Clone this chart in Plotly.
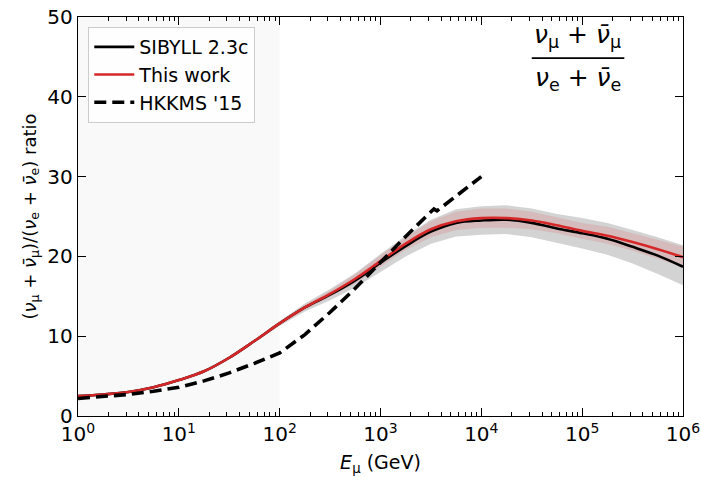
import plotly.graph_objects as go

# log10(E / GeV) sample points
logE = [0, 0.25, 0.5, 0.75, 1.0, 1.25, 1.5, 1.75, 2.0, 2.25, 2.5, 2.75, 3.0,
        3.25, 3.5, 3.75, 4.0, 4.25, 4.5, 4.75, 5.0, 5.25, 5.5, 5.75, 6.0]
this_work = [2.5, 2.7, 3.0, 3.6, 4.5, 5.6, 7.3, 9.4, 11.6, 13.6, 15.3, 17.2, 19.4,
             21.6, 23.4, 24.4, 24.8, 24.8, 24.5, 23.9, 23.2, 22.6, 21.8, 20.9, 19.9]
sibyll = [2.5, 2.7, 3.0, 3.6, 4.5, 5.6, 7.3, 9.4, 11.6, 13.6, 15.2, 17.0, 19.2,
          21.3, 23.1, 24.2, 24.5, 24.6, 24.2, 23.5, 22.9, 22.2, 21.2, 20.1, 18.7]
sibyll_lo = [2.35, 2.55, 2.85, 3.45, 4.35, 5.45, 7.1, 9.2, 11.3, 13.1, 14.5, 16.1, 18.1,
             20.0, 21.6, 22.5, 22.7, 22.8, 22.4, 21.7, 21.0, 20.2, 19.1, 17.8, 16.4]
sibyll_hi = [2.65, 2.85, 3.15, 3.75, 4.65, 5.75, 7.5, 9.6, 11.9, 14.1, 15.9, 17.9, 20.3,
             22.6, 24.6, 25.9, 26.3, 26.4, 26.0, 25.3, 24.8, 24.2, 23.3, 22.4, 21.4]
this_lo = [2.4, 2.6, 2.9, 3.5, 4.4, 5.5, 7.2, 9.3, 11.4, 13.3, 14.9, 16.6, 18.7,
           20.8, 22.4, 23.3, 23.6, 23.6, 23.4, 22.9, 22.2, 21.6, 20.7, 19.7, 18.6]
this_hi = [2.6, 2.8, 3.1, 3.7, 4.6, 5.7, 7.4, 9.5, 11.8, 13.9, 15.7, 17.8, 20.1,
           22.4, 24.4, 25.6, 26.0, 26.0, 25.6, 24.9, 24.2, 23.7, 22.9, 22.1, 21.2]

logE_hkkms = [0, 0.25, 0.5, 0.75, 1.0, 1.25, 1.5, 1.75, 2.0, 2.25, 2.5, 2.75, 3.0,
              3.25, 3.5, 3.53, 3.56, 3.75, 4.0]
hkkms = [2.2, 2.4, 2.7, 3.1, 3.6, 4.4, 5.4, 6.6, 7.9, 10.2, 13.0, 16.0, 19.3,
         22.5, 25.6, 25.95, 25.7, 27.6, 30.0]

x_tickvals = [1, 10, 100, 1e3, 1e4, 1e5, 1e6]
x_ticktext = ["10<sup>0</sup>", "10<sup>1</sup>", "10<sup>2</sup>", "10<sup>3</sup>",
              "10<sup>4</sup>", "10<sup>5</sup>", "10<sup>6</sup>"]
y_tickvals = [0, 10, 20, 30, 40, 50]

E = [10 ** v for v in logE]
E_h = [10 ** v for v in logE_hkkms]
minor_vals = [m * 10 ** d for d in range(6) for m in range(2, 10)]

FONT = "DejaVu Sans"
fig = go.Figure()

# uncertainty bands
fig.add_trace(go.Scatter(x=E, y=sibyll_lo, mode="lines", line=dict(width=0),
                         showlegend=False, hoverinfo="skip"))
fig.add_trace(go.Scatter(x=E, y=sibyll_hi, mode="lines", line=dict(width=0),
                         fill="tonexty", fillcolor="rgba(150,150,150,0.42)",
                         showlegend=False, hoverinfo="skip"))
fig.add_trace(go.Scatter(x=E, y=this_lo, mode="lines", line=dict(width=0),
                         showlegend=False, hoverinfo="skip"))
fig.add_trace(go.Scatter(x=E, y=this_hi, mode="lines", line=dict(width=0),
                         fill="tonexty", fillcolor="rgba(220,80,80,0.18)",
                         showlegend=False, hoverinfo="skip"))

fig.add_trace(go.Scatter(x=E, y=sibyll, mode="lines", name="SIBYLL 2.3c",
                         line=dict(color="black", width=2.6, shape="spline")))
fig.add_trace(go.Scatter(x=E, y=this_work, mode="lines", name="This work",
                         line=dict(color="#d62728", width=2.6, shape="spline")))
fig.add_trace(go.Scatter(x=E_h, y=hkkms, mode="lines", name="HKKMS '15",
                         line=dict(color="black", width=3.6, dash="12px,6px")))

# shaded low-energy region (1 - 100 GeV)
fig.add_shape(type="rect", xref="paper", yref="paper", x0=0, x1=2 / 6, y0=0, y1=1,
              fillcolor="rgba(0,0,0,0.025)", line=dict(width=0), layer="below")

# fraction label
fig.add_annotation(xref="paper", yref="paper", x=0.826, y=0.952, xanchor="center",
                   yanchor="middle",
                   text="<i>ν</i><sub>μ</sub> + <i>ν̄</i><sub>μ</sub>", showarrow=False,
                   font=dict(family=FONT, size=25, color="black"))
fig.add_annotation(xref="paper", yref="paper", x=0.826, y=0.845, xanchor="center",
                   yanchor="middle",
                   text="<i>ν</i><sub>e</sub> + <i>ν̄</i><sub>e</sub>", showarrow=False,
                   font=dict(family=FONT, size=25, color="black"))
fig.add_shape(type="line", xref="paper", yref="paper", x0=0.75, x1=0.903,
              y0=0.897, y1=0.897, line=dict(color="black", width=1.6))

axis_common = dict(showgrid=False, zeroline=False, showline=True, linecolor="black",
                   linewidth=1.4, ticks="inside", tickcolor="black", tickwidth=1.4,
                   ticklen=8, automargin=False,
                   tickfont=dict(family=FONT, size=20, color="black"))
minor_x = dict(ticks="inside", ticklen=4, tickwidth=1, tickcolor="black",
               tickmode="array", tickvals=minor_vals, showgrid=False)

fig.update_layout(
    xaxis=dict(type="log", range=[0, 6], tickmode="array", tickvals=x_tickvals,
               ticktext=x_ticktext, minor=minor_x,
               title=dict(text="<i>E</i><sub>μ</sub> (GeV)",
                          font=dict(family=FONT, size=19, color="black"), standoff=10),
               **axis_common),
    xaxis2=dict(type="log", range=[0, 6], overlaying="x", side="top", tickmode="array",
                tickvals=x_tickvals, showticklabels=False, minor=minor_x,
                **axis_common),
    yaxis=dict(range=[0, 50], tickmode="array", tickvals=y_tickvals, mirror="ticks",
               title=dict(text="(<i>ν</i><sub>μ</sub> + <i>ν̄</i><sub>μ</sub>)/(<i>ν</i><sub>e</sub> + <i>ν̄</i><sub>e</sub>) ratio",
                          font=dict(family=FONT, size=18, color="black"), standoff=6),
               **axis_common),
)
fig.add_trace(go.Scatter(x=[1, 1e6], y=[None, None], xaxis="x2", mode="lines",
                         showlegend=False, hoverinfo="skip"))

fig.update_layout(
    width=701, height=477,
    margin=dict(l=78, r=18, t=17, b=61, autoexpand=False),
    plot_bgcolor="white", paper_bgcolor="white",
    font=dict(family=FONT, color="black"),
    legend=dict(x=0.017, y=0.975, xanchor="left", yanchor="top", traceorder="normal",
                bgcolor="rgba(255,255,255,0.85)", bordercolor="#cccccc", borderwidth=1,
                font=dict(family=FONT, size=19, color="black"),
                itemwidth=40, tracegroupgap=2),
)

fig.write_html("out.html")
